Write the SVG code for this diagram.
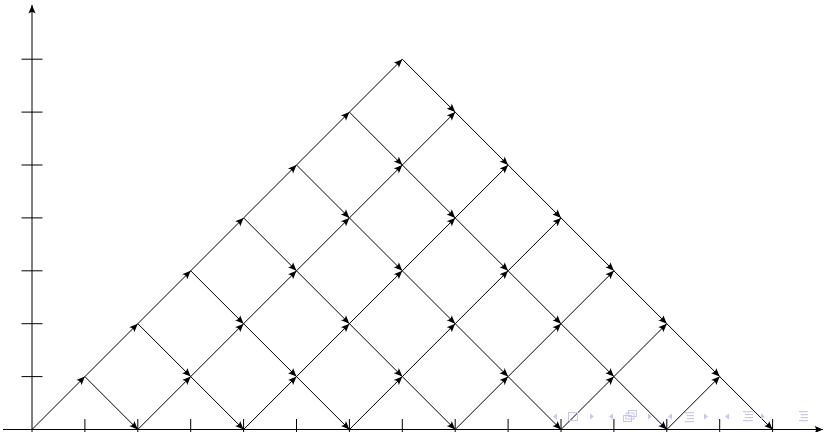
<svg xmlns="http://www.w3.org/2000/svg" width="825" height="432" viewBox="0 0 825 432">
<style>
.ax{stroke:#000;stroke-width:1;fill:none}
.tk{stroke:#000;stroke-width:1}
.e{stroke:#000;stroke-width:1;marker-end:url(#ah)}
.nav{fill:#c8c8ea;stroke:none}
.navs{fill:none;stroke:#c8c8ea;stroke-width:1}
</style>
<defs>
<marker id="ah" viewBox="-9 -4 10 8" refX="0" refY="0" markerWidth="10" markerHeight="8" markerUnits="userSpaceOnUse" orient="auto">
<path d="M0,0 L-8.5,-3.6 Q-5.5,0 -8.5,3.6 Z" fill="#000"/>
</marker>
<marker id="axh" viewBox="-9 -4 10 8" refX="0" refY="0" markerWidth="10" markerHeight="8" markerUnits="userSpaceOnUse" orient="auto">
<path d="M0,0 L-8.5,-3.6 Q-5.5,0 -8.5,3.6 Z" fill="#000"/>
</marker>
</defs>
<rect width="825" height="432" fill="#fff"/>
<g id="axes">
<line class="ax" x1="3" y1="429.5" x2="823" y2="429.5" marker-end="url(#axh)"/>
<line class="ax" x1="32" y1="440" x2="32" y2="5" marker-end="url(#axh)"/>
<g class="tk">
<line x1="84.9" y1="419" x2="84.9" y2="440"/>
<line x1="137.8" y1="419" x2="137.8" y2="440"/>
<line x1="190.7" y1="419" x2="190.7" y2="440"/>
<line x1="243.6" y1="419" x2="243.6" y2="440"/>
<line x1="296.5" y1="419" x2="296.5" y2="440"/>
<line x1="349.4" y1="419" x2="349.4" y2="440"/>
<line x1="402.3" y1="419" x2="402.3" y2="440"/>
<line x1="455.2" y1="419" x2="455.2" y2="440"/>
<line x1="508.1" y1="419" x2="508.1" y2="440"/>
<line x1="561" y1="419" x2="561" y2="440"/>
<line x1="613.9" y1="419" x2="613.9" y2="440"/>
<line x1="666.8" y1="419" x2="666.8" y2="440"/>
<line x1="719.7" y1="419" x2="719.7" y2="440"/>
<line x1="772.6" y1="419" x2="772.6" y2="440"/>
<line x1="21.5" y1="376.6" x2="42.5" y2="376.6"/>
<line x1="21.5" y1="323.7" x2="42.5" y2="323.7"/>
<line x1="21.5" y1="270.8" x2="42.5" y2="270.8"/>
<line x1="21.5" y1="217.9" x2="42.5" y2="217.9"/>
<line x1="21.5" y1="165" x2="42.5" y2="165"/>
<line x1="21.5" y1="112.1" x2="42.5" y2="112.1"/>
<line x1="21.5" y1="59.2" x2="42.5" y2="59.2"/>
</g>
</g>
<g id="connectors">
<line class="e" x1="32" y1="429.5" x2="84.9" y2="376.6"/>
<line class="e" x1="84.9" y1="376.6" x2="137.8" y2="323.7"/>
<line class="e" x1="84.9" y1="376.6" x2="137.8" y2="429.5"/>
<line class="e" x1="137.8" y1="429.5" x2="190.7" y2="376.6"/>
<line class="e" x1="137.8" y1="323.7" x2="190.7" y2="270.8"/>
<line class="e" x1="137.8" y1="323.7" x2="190.7" y2="376.6"/>
<line class="e" x1="190.7" y1="376.6" x2="243.6" y2="323.7"/>
<line class="e" x1="190.7" y1="376.6" x2="243.6" y2="429.5"/>
<line class="e" x1="190.7" y1="270.8" x2="243.6" y2="217.9"/>
<line class="e" x1="190.7" y1="270.8" x2="243.6" y2="323.7"/>
<line class="e" x1="243.6" y1="429.5" x2="296.5" y2="376.6"/>
<line class="e" x1="243.6" y1="323.7" x2="296.5" y2="270.8"/>
<line class="e" x1="243.6" y1="323.7" x2="296.5" y2="376.6"/>
<line class="e" x1="243.6" y1="217.9" x2="296.5" y2="165"/>
<line class="e" x1="243.6" y1="217.9" x2="296.5" y2="270.8"/>
<line class="e" x1="296.5" y1="376.6" x2="349.4" y2="323.7"/>
<line class="e" x1="296.5" y1="376.6" x2="349.4" y2="429.5"/>
<line class="e" x1="296.5" y1="270.8" x2="349.4" y2="217.9"/>
<line class="e" x1="296.5" y1="270.8" x2="349.4" y2="323.7"/>
<line class="e" x1="296.5" y1="165" x2="349.4" y2="112.1"/>
<line class="e" x1="296.5" y1="165" x2="349.4" y2="217.9"/>
<line class="e" x1="349.4" y1="429.5" x2="402.3" y2="376.6"/>
<line class="e" x1="349.4" y1="323.7" x2="402.3" y2="270.8"/>
<line class="e" x1="349.4" y1="323.7" x2="402.3" y2="376.6"/>
<line class="e" x1="349.4" y1="217.9" x2="402.3" y2="165"/>
<line class="e" x1="349.4" y1="217.9" x2="402.3" y2="270.8"/>
<line class="e" x1="349.4" y1="112.1" x2="402.3" y2="59.2"/>
<line class="e" x1="349.4" y1="112.1" x2="402.3" y2="165"/>
<line class="e" x1="402.3" y1="376.6" x2="455.2" y2="323.7"/>
<line class="e" x1="402.3" y1="376.6" x2="455.2" y2="429.5"/>
<line class="e" x1="402.3" y1="270.8" x2="455.2" y2="217.9"/>
<line class="e" x1="402.3" y1="270.8" x2="455.2" y2="323.7"/>
<line class="e" x1="402.3" y1="165" x2="455.2" y2="112.1"/>
<line class="e" x1="402.3" y1="165" x2="455.2" y2="217.9"/>
<line class="e" x1="402.3" y1="59.2" x2="455.2" y2="112.1"/>
<line class="e" x1="455.2" y1="429.5" x2="508.1" y2="376.6"/>
<line class="e" x1="455.2" y1="323.7" x2="508.1" y2="270.8"/>
<line class="e" x1="455.2" y1="323.7" x2="508.1" y2="376.6"/>
<line class="e" x1="455.2" y1="217.9" x2="508.1" y2="165"/>
<line class="e" x1="455.2" y1="217.9" x2="508.1" y2="270.8"/>
<line class="e" x1="455.2" y1="112.1" x2="508.1" y2="165"/>
<line class="e" x1="508.1" y1="376.6" x2="561" y2="323.7"/>
<line class="e" x1="508.1" y1="376.6" x2="561" y2="429.5"/>
<line class="e" x1="508.1" y1="270.8" x2="561" y2="217.9"/>
<line class="e" x1="508.1" y1="270.8" x2="561" y2="323.7"/>
<line class="e" x1="508.1" y1="165" x2="561" y2="217.9"/>
<line class="e" x1="561" y1="429.5" x2="613.9" y2="376.6"/>
<line class="e" x1="561" y1="323.7" x2="613.9" y2="270.8"/>
<line class="e" x1="561" y1="323.7" x2="613.9" y2="376.6"/>
<line class="e" x1="561" y1="217.9" x2="613.9" y2="270.8"/>
<line class="e" x1="613.9" y1="376.6" x2="666.8" y2="323.7"/>
<line class="e" x1="613.9" y1="376.6" x2="666.8" y2="429.5"/>
<line class="e" x1="613.9" y1="270.8" x2="666.8" y2="323.7"/>
<line class="e" x1="666.8" y1="429.5" x2="719.7" y2="376.6"/>
<line class="e" x1="666.8" y1="323.7" x2="719.7" y2="376.6"/>
<line class="e" x1="719.7" y1="376.6" x2="772.6" y2="429.5"/>
</g>
<g id="navigation">
<path class="nav" d="M553,416.5 L557,413.5 L557,419.5 Z"/>
<rect class="navs" x="568.5" y="412.5" width="9" height="8"/>
<path class="nav" d="M590,413.5 L594,416.5 L590,419.5 Z"/>
<path class="nav" d="M613,413.5 L609,416.5 L613,419.5 Z"/>
<rect class="navs" x="628.5" y="410.5" width="8" height="6"/>
<rect class="navs" x="626" y="413" width="8" height="6" fill="#fff"/>
<rect class="navs" x="623.5" y="415.5" width="8" height="6" fill="#fff"/>
<path class="nav" d="M648,413.5 L652,416.5 L648,419.5 Z"/>
<path class="nav" d="M672,413.5 L668,416.5 L672,419.5 Z"/>
<g class="nav"><rect x="685" y="412" width="9" height="1.2"/><rect x="687" y="415" width="7" height="1.2"/><rect x="687" y="418" width="7" height="1.2"/><rect x="685" y="421" width="9" height="1.2"/></g>
<path class="nav" d="M704,413.5 L708,416.5 L704,419.5 Z"/>
<path class="nav" d="M729,413.5 L725,416.5 L729,419.5 Z"/>
<g class="nav"><rect x="743" y="411" width="10" height="1.2"/><rect x="745" y="414" width="8" height="1.2"/><rect x="745" y="417" width="8" height="1.2"/><rect x="743" y="420" width="10" height="1.2"/></g>
<path class="nav" d="M761,413.5 L765,416.5 L761,419.5 Z"/>
<g class="nav"><rect x="799" y="411" width="9" height="1.2"/><rect x="801" y="414" width="7" height="1.2"/><rect x="801" y="417" width="7" height="1.2"/><rect x="799" y="420" width="9" height="1.2"/></g>
</g>
</svg>
